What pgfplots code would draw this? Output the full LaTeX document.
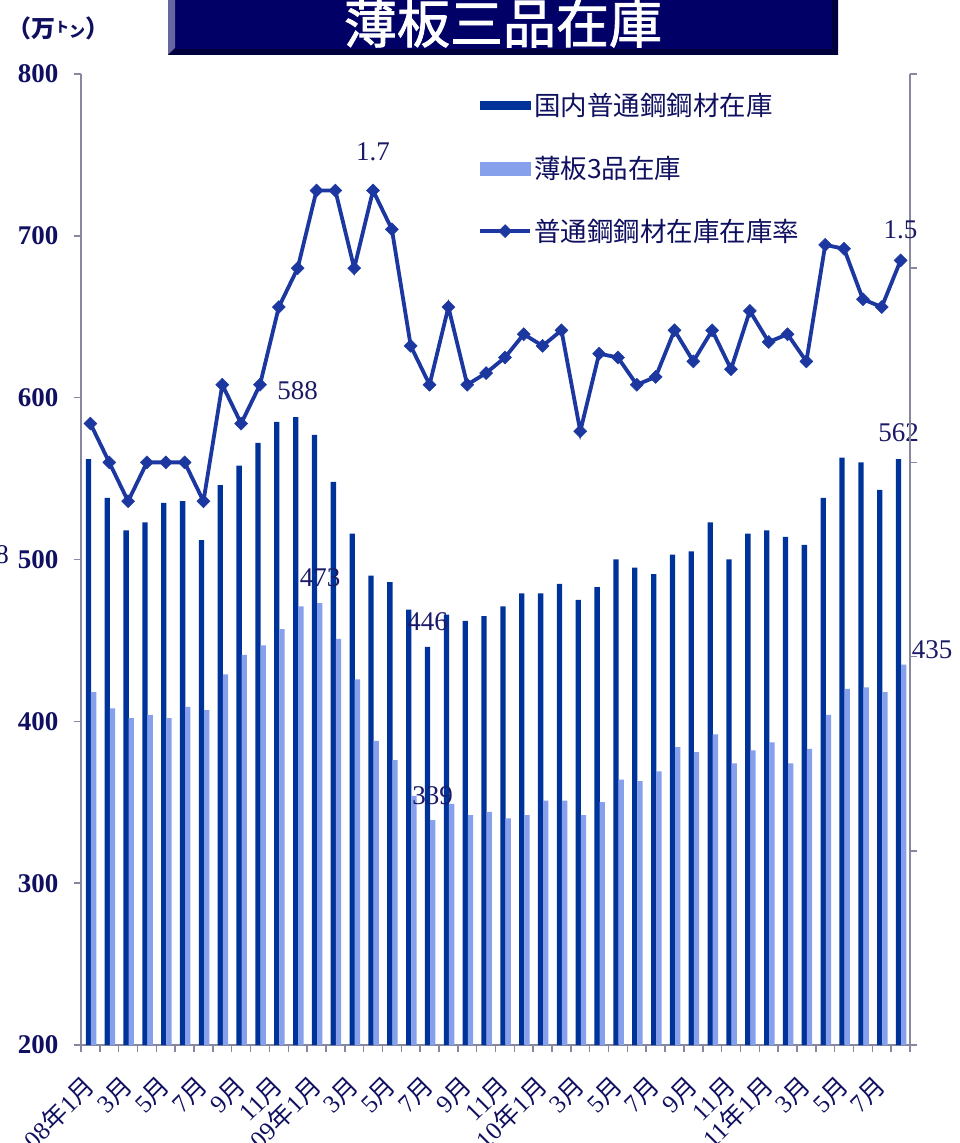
\documentclass[border=0pt]{standalone}
\usepackage{fontspec}
\usepackage{pgfplots}
\pgfplotsset{compat=1.18}
\setmainfont{Liberation Serif}
\newfontfamily\cjk{Noto Sans CJK JP}
\newfontfamily\cjkmed[FakeBold=1.6]{Noto Sans CJK JP}
\definecolor{navy}{RGB}{16,16,96}
\definecolor{lbltxt}{RGB}{26,26,102}
\definecolor{darkbar}{RGB}{0,51,153}
\definecolor{lightbar}{RGB}{134,160,236}
\definecolor{linecol}{RGB}{28,56,160}
\definecolor{axisgray}{RGB}{135,135,160}
\definecolor{titlebg}{RGB}{0,0,102}
\definecolor{titlebevel}{RGB}{102,102,160}
\definecolor{titleshadow}{RGB}{0,0,60}
\newcommand{\J}[1]{{\cjk #1}}
\pgfplotsset{linelegend/.style={legend image code/.code={\draw[##1, mark indices={2}] plot coordinates {(0pt,0pt) (25pt,0pt) (50pt,0pt)};}}}
\begin{document}
\begin{tikzpicture}[x=1pt,y=1pt]
\useasboundingbox (0,0) rectangle (960,1143);
% title box
\fill[titlebg] (168,1088) rectangle (838,1160);
\fill[titlebevel] (168,1088) -- (175,1095) -- (175,1160) -- (168,1160) -- cycle;
\fill[titleshadow] (168,1088) -- (838,1088) -- (838,1160) -- (832,1160) -- (832,1094) -- (175,1094) -- cycle;
\node[text=white, font=\cjkmed\fontsize{53}{53}\selectfont] at (503,1120) {薄板三品在庫};
% unit
\node[anchor=west, inner sep=0pt, text=navy, font=\cjk\bfseries\fontsize{24}{24}\selectfont] at (7,1115) {（万\raisebox{5pt}{\fontsize{14}{14}\selectfont ト}{\fontsize{16}{16}\selectfont ン}）};
% cut fragment at left edge
\node[anchor=east, inner sep=0pt, text=navy, font=\fontsize{27}{27}\selectfont] at (9,588) {8};

\begin{axis}[at={(81pt,98pt)}, anchor=south west, scale only axis,
  width=829pt, height=971pt, clip=false,
  xmin=-0.5, xmax=43.5, ymin=200, ymax=800,
  axis x line*=bottom, axis y line*=left,
  axis line style={-, draw=axisgray, line width=1.5pt},
  tick align=outside, major tick length=7pt,
  tick style={draw=axisgray, line width=1.5pt},
  ytick={200,300,...,800}, yticklabels={200,300,400,500,600,700,800},
  yticklabel style={font=\bfseries\fontsize{27}{27}\selectfont, text=navy, xshift=-12pt},
  xtick={-0.5,0.5,...,43.5}, xticklabels={},
  extra x ticks={0,2,...,42},
  extra x tick labels={08\J{年}1\J{月},3\J{月},5\J{月},7\J{月},9\J{月},11\J{月},09\J{年}1\J{月},3\J{月},5\J{月},7\J{月},9\J{月},11\J{月},10\J{年}1\J{月},3\J{月},5\J{月},7\J{月},9\J{月},11\J{月},11\J{年}1\J{月},3\J{月},5\J{月},7\J{月}},
  extra x tick style={tick style={draw=none}},
  xticklabel style={xshift=2pt, yshift=-27pt, rotate=45, anchor=east, font=\fontsize{25}{25}\selectfont, text=navy},
  ybar, bar width=5.3pt,
]
\addplot[fill=darkbar, draw=none, bar shift=-2pt] coordinates {
(0,562) (1,538) (2,518) (3,523) (4,535) (5,536) (6,512) (7,546) (8,558) (9,572)
(10,585) (11,588) (12,577) (13,548) (14,516) (15,490) (16,486) (17,469) (18,446) (19,466)
(20,462) (21,465) (22,471) (23,479) (24,479) (25,485) (26,475) (27,483) (28,500) (29,495)
(30,491) (31,503) (32,505) (33,523) (34,500) (35,516) (36,518) (37,514) (38,509) (39,538)
(40,563) (41,560) (42,543) (43,562)};
\addplot[fill=lightbar, draw=none, bar shift=3.2pt] coordinates {
(0,418) (1,408) (2,402) (3,404) (4,402) (5,409) (6,407) (7,429) (8,441) (9,447)
(10,457) (11,471) (12,473) (13,451) (14,426) (15,388) (16,376) (17,354) (18,339) (19,349)
(20,342) (21,344) (22,340) (23,342) (24,351) (25,351) (26,342) (27,350) (28,364) (29,363)
(30,369) (31,384) (32,381) (33,392) (34,374) (35,382) (36,387) (37,374) (38,383) (39,404)
(40,420) (41,421) (42,418) (43,435)};
\tikzset{lbl/.style={font=\fontsize{27}{27}\selectfont, text=lbltxt, inner sep=0pt}}
\node[lbl, yshift=26pt] at (axis cs:11,588) {588};
\node[lbl, xshift=3.5pt, yshift=25pt] at (axis cs:12,473) {473};
\node[lbl, xshift=-2pt, yshift=25pt] at (axis cs:18,446) {446};
\node[lbl, xshift=3pt, yshift=24pt] at (axis cs:18,339) {339};
\node[lbl, xshift=-2pt, yshift=26pt] at (axis cs:43,562) {562};
\node[lbl, xshift=31.5pt, yshift=15pt] at (axis cs:43,435) {435};
\end{axis}

\begin{axis}[at={(81pt,98pt)}, anchor=south west, scale only axis,
  width=829pt, height=971pt, clip=false,
  xmin=-0.5, xmax=43.5, ymin=-0.5, ymax=2.0,
  axis x line=none, axis y line*=right,
  axis line style={-, draw=axisgray, line width=1.5pt},
  tick align=outside, major tick length=7pt,
  tick style={draw=axisgray, line width=1.5pt},
  ytick={-0.5,0,0.5,1,1.5,2}, yticklabels={},
  legend cell align=left,
  legend style={at={(0.479,0.982)}, anchor=north west, draw=none, fill=none,
    font=\cjk\fontsize{26.5}{26.5}\selectfont, text=navy, row sep=35pt, inner sep=0pt},
]
\addlegendimage{legend image code/.code={\fill[darkbar] (0pt,-4pt) rectangle (50pt,4pt);}}
\addlegendentry{国内普通鋼鋼材在庫}
\addlegendimage{legend image code/.code={\fill[lightbar] (0pt,-6.5pt) rectangle (50pt,6.5pt);}}
\addlegendentry{薄板3品在庫}
\addplot[linecol, line width=3.8pt, mark=square*, mark size=4.6pt,
  mark options={rotate=45, solid, line width=0.5pt}, linelegend]
coordinates {
(0,1.10) (1,1.00) (2,0.90) (3,1.00) (4,1.00) (5,1.00) (6,0.90) (7,1.20) (8,1.10) (9,1.20)
(10,1.40) (11,1.50) (12,1.70) (13,1.70) (14,1.50) (15,1.70) (16,1.60) (17,1.30) (18,1.20) (19,1.40)
(20,1.20) (21,1.23) (22,1.27) (23,1.33) (24,1.30) (25,1.34) (26,1.08) (27,1.28) (28,1.27) (29,1.20)
(30,1.22) (31,1.34) (32,1.26) (33,1.34) (34,1.24) (35,1.39) (36,1.31) (37,1.33) (38,1.26) (39,1.56)
(40,1.55) (41,1.42) (42,1.40) (43,1.52)};
\addlegendentry{普通鋼鋼材在庫在庫率}
\node[font=\fontsize{27}{27}\selectfont, text=lbltxt, inner sep=0pt, yshift=39pt] at (axis cs:15,1.7) {1.7};
\node[font=\fontsize{27}{27}\selectfont, text=lbltxt, inner sep=0pt, yshift=31pt] at (axis cs:43,1.52) {1.5};
\end{axis}
\end{tikzpicture}
\end{document}
